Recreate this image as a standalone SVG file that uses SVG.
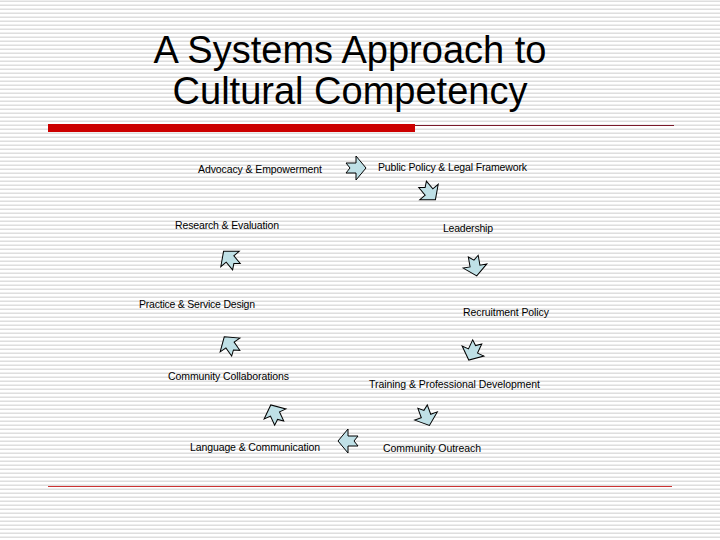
<svg xmlns="http://www.w3.org/2000/svg" width="720" height="540" viewBox="0 0 720 540">
<defs>
<pattern id="stripes" x="0" y="0" width="8" height="4" patternUnits="userSpaceOnUse">
<rect x="0" y="0" width="8" height="4" fill="#ffffff"/>
<rect x="0" y="0.5" width="8" height="1.5" fill="#dedede"/>
</pattern>
<path id="arr" d="M-10,-5 L0,-5 L0,-12 L10,0 L0,12 L0,5 L-10,5 L-6,0 Z"/>
</defs>
<style>
.lbl{font-family:"Liberation Sans","DejaVu Sans",sans-serif;font-size:10.5px;fill:#000}
.ttl{font-family:"Liberation Sans","DejaVu Sans",sans-serif;font-size:38px;fill:#000;text-anchor:middle}
.a{fill:#bfe0e6;stroke:#000;stroke-width:1;stroke-linejoin:miter}
</style>
<rect x="0" y="0" width="720" height="540" fill="url(#stripes)"/>
<g id="title">
<text class="ttl" x="350" y="63">A Systems Approach to</text>
<text class="ttl" x="350" y="104">Cultural Competency</text>
</g>
<g id="rules">
<rect x="48" y="124" width="367" height="8" fill="#cc0000"/>
<line x1="415" y1="125.5" x2="674" y2="125.5" stroke="#7a1a2a" stroke-width="1"/>
<line x1="48" y1="486.5" x2="672" y2="486.5" stroke="#cc3333" stroke-width="1"/>
</g>
<g id="labels">
<g id="n1"><text class="lbl" x="198" y="173" textLength="124">Advocacy &amp; Empowerment</text></g>
<g id="n2"><text class="lbl" x="378" y="171" textLength="149">Public Policy &amp; Legal Framework</text></g>
<g id="n3"><text class="lbl" x="175" y="229" textLength="104">Research &amp; Evaluation</text></g>
<g id="n4"><text class="lbl" x="443" y="232" textLength="50">Leadership</text></g>
<g id="n5"><text class="lbl" x="139" y="308" textLength="116">Practice &amp; Service Design</text></g>
<g id="n6"><text class="lbl" x="463" y="316" textLength="86">Recruitment Policy</text></g>
<g id="n7"><text class="lbl" x="168" y="380" textLength="121">Community Collaborations</text></g>
<g id="n8"><text class="lbl" x="369" y="388" textLength="171">Training &amp; Professional Development</text></g>
<g id="n9"><text class="lbl" x="190" y="451" textLength="130">Language &amp; Communication</text></g>
<g id="n10"><text class="lbl" x="383" y="452" textLength="98">Community Outreach</text></g>
</g>
<g id="connectors">
<use href="#arr" class="a" transform="translate(356,168)"/>
<use href="#arr" class="a" transform="translate(429,192) rotate(50)"/>
<use href="#arr" class="a" transform="translate(475,266) rotate(80)"/>
<use href="#arr" class="a" transform="translate(473,351) rotate(115)"/>
<use href="#arr" class="a" transform="translate(426,416) rotate(70)"/>
<use href="#arr" class="a" transform="translate(348,441) rotate(180)"/>
<use href="#arr" class="a" transform="translate(275,414) rotate(-115)"/>
<use href="#arr" class="a" transform="translate(230,345) rotate(-125)"/>
<use href="#arr" class="a" transform="translate(230,259) rotate(-130)"/>
</g>
</svg>
